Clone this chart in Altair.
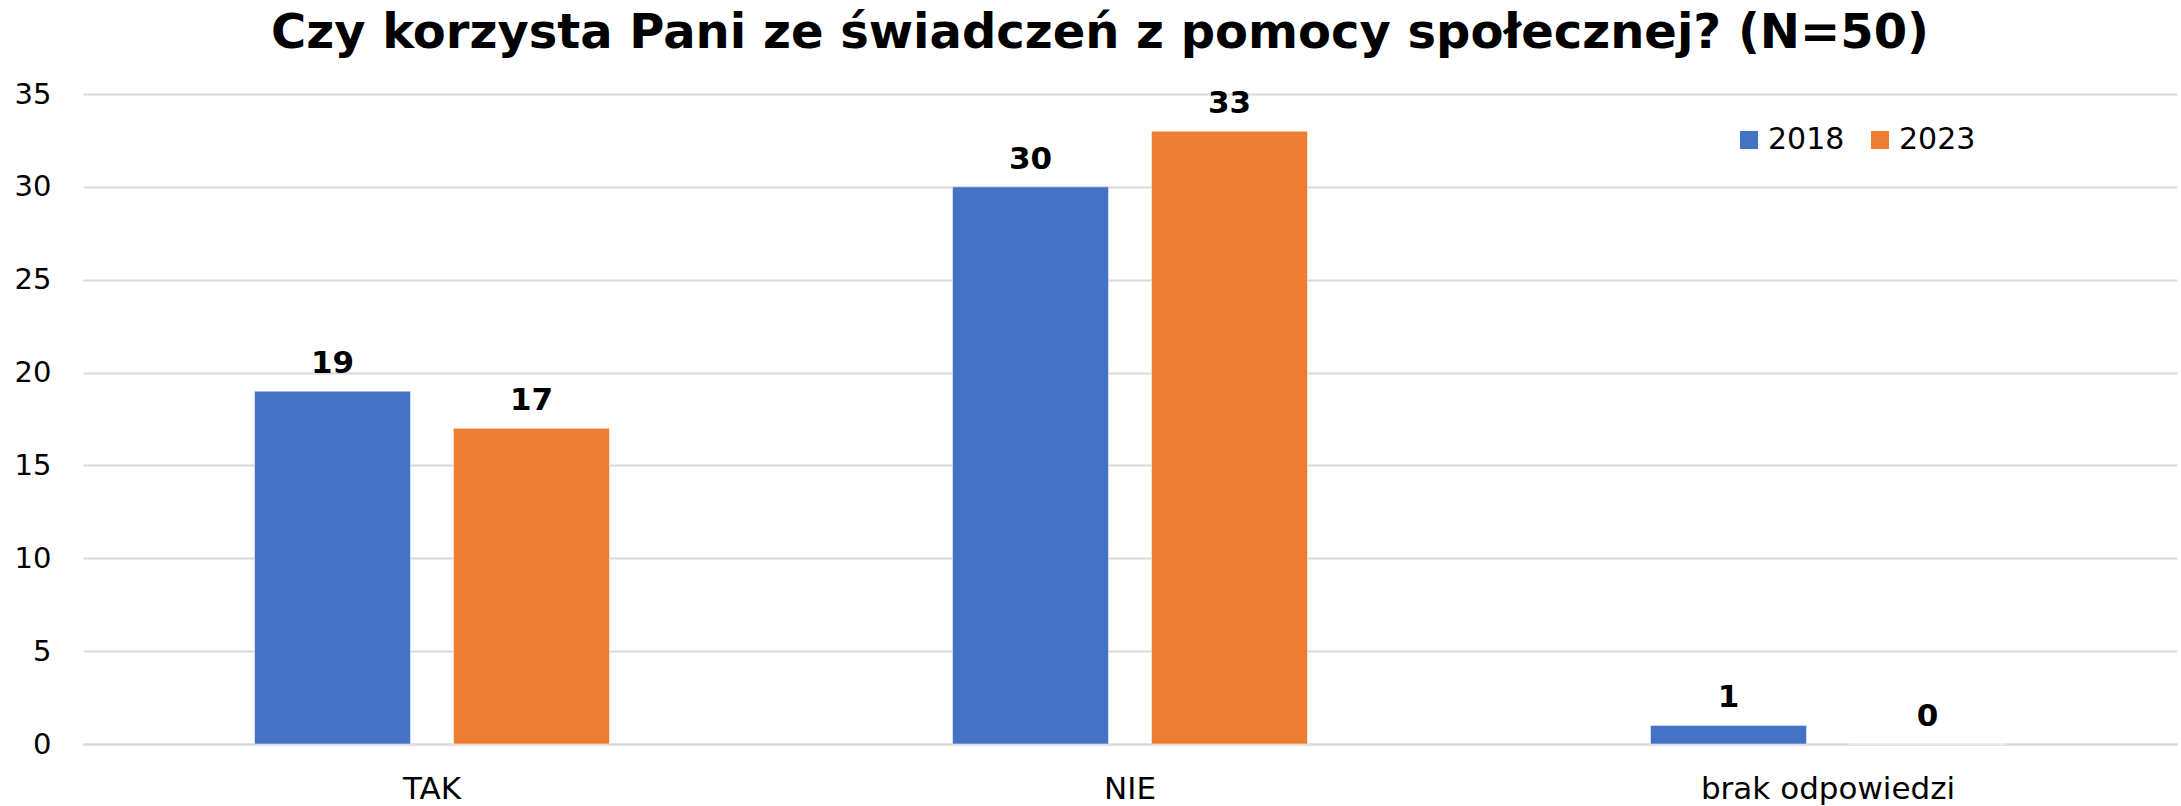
import altair as alt
import pandas as pd

categories = ["TAK", "NIE", "brak odpowiedzi"]
years = ["2018", "2023"]
values_2018 = [19, 30, 1]
values_2023 = [17, 33, 0]
colors = ["#4472C4", "#ED7D31"]
title_text = "Czy korzysta Pani ze świadczeń z pomocy społecznej? (N=50)"

rows = []
for c, v1, v2 in zip(categories, values_2018, values_2023):
    rows.append({"kat": c, "rok": years[0], "n": v1})
    rows.append({"kat": c, "rok": years[1], "n": v2})
df = pd.DataFrame(rows)

x = alt.X("kat:N", sort=categories, title=None,
          scale=alt.Scale(paddingInner=0, paddingOuter=0),
          axis=alt.Axis(labelAngle=0, labelFont="DejaVu Sans", labelFontSize=31,
                        labelColor="#000000", labelPadding=30, labelLimit=0, ticks=False,
                        domain=True, domainColor="#D9D9D9", domainWidth=2))
xo = alt.XOffset("rok:N", sort=years,
                 scale=alt.Scale(paddingInner=0.216, paddingOuter=0.862))

base = alt.Chart(df)

bars = base.mark_bar(stroke="#FFFFFF", strokeWidth=0.5).encode(
    x=x,
    xOffset=xo,
    y=alt.Y("n:Q", title=None,
            scale=alt.Scale(domain=[0, 35]),
            axis=alt.Axis(values=[0, 5, 10, 15, 20, 25, 30, 35], labelFont="DejaVu Sans",
                          labelFontSize=29, labelColor="#000000", labelPadding=32,
                          ticks=False, domain=False, gridColor="#D9D9D9", gridWidth=2)),
    color=alt.Color("rok:N", sort=years,
                    scale=alt.Scale(domain=years, range=colors),
                    legend=alt.Legend(title=None, orient="none", direction="horizontal",
                                      legendX=1651, legendY=31, symbolType="square",
                                      symbolSize=324, symbolStrokeWidth=0,
                                      labelFont="DejaVu Sans", labelFontSize=30,
                                      labelColor="#000000", labelOffset=4,
                                      columnPadding=20)),
)

labels = base.mark_text(font="DejaVu Sans", fontWeight="bold", fontSize=31,
                        color="#000000", baseline="alphabetic", dy=-18).encode(
    x=x,
    xOffset=xo,
    y=alt.Y("n:Q"),
    text=alt.Text("n:Q"),
)

chart = alt.layer(bars, labels).properties(
    width=2094,
    height=650,
    background="#FFFFFF",
    autosize=alt.AutoSizeParams(type="none"),
    padding={"left": 83, "top": 94, "right": 4, "bottom": 62},
    title=alt.TitleParams(title_text, font="DejaVu Sans", fontWeight="bold",
                          fontSize=48, color="#000000", anchor="middle",
                          baseline="alphabetic", dx=-30, offset=-16),
).configure_view(stroke=None, strokeWidth=0)

chart.save("out.html", embed_options={"renderer": "svg", "actions": False})
